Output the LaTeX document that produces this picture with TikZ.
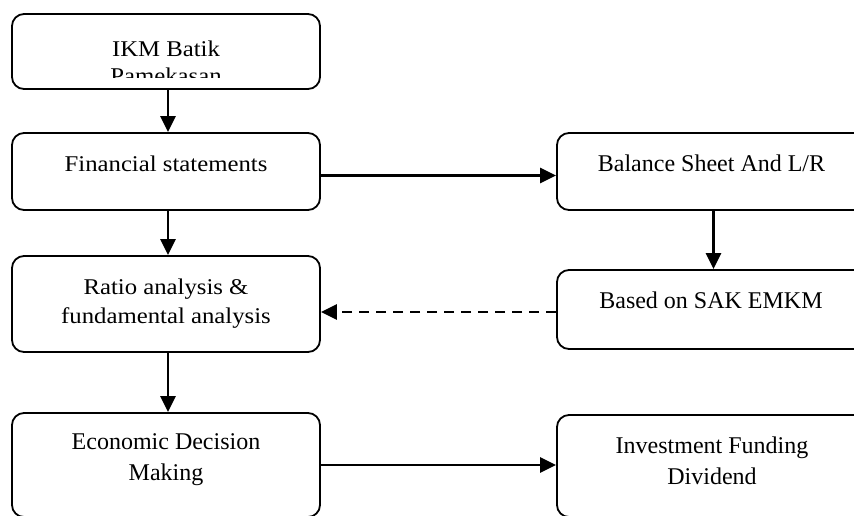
\documentclass[tikz,border=0pt]{standalone}
\usepackage{fontspec}
\setmainfont{Liberation Serif}
\newfontfamily\wideserif[FakeStretch=1.1]{Liberation Serif}
\usetikzlibrary{arrows.meta}

\begin{document}
\begin{tikzpicture}[x=1pt, y=-1pt,
    box/.style={draw, line width=1.8pt, rounded corners=12pt, minimum width=308pt},
    rbox/.style={box, minimum width=313pt},
    flow/.style={line width=2.6pt, -{Triangle[length=16pt, width=15pt]}},
    txt/.style={align=center, inner sep=0pt, font=\fontsize{24}{31}\selectfont}]
    % Define column parameters
    \pgfmathsetmacro{\lx}{166}     % left column centre
    \pgfmathsetmacro{\rx}{713.5}   % right column centre

    % Page frame
    \clip (0,0) rectangle (854,515);

    % Draw boxes of the left column
    \node[box, minimum height=75pt] (ikm) at (\lx,51.5) {};
    \node[box, minimum height=77pt] (fin) at (\lx,171.5) {};
    \node[box, minimum height=96pt] (ratio) at (\lx,304) {};
    \node[box, minimum height=104pt] (econ) at (\lx,465) {};

    % Draw boxes of the right column
    \node[rbox, minimum height=77pt] (bal) at (\rx,171.5) {};
    \node[rbox, minimum height=79pt] (sak) at (\rx,309.5) {};
    \node[rbox, minimum height=102pt] (inv) at (\rx,466) {};

    % Box texts
    \begin{scope}
        \clip (12,14) rectangle (320,77);
        \node[txt, font=\wideserif\fontsize{22.5}{27}\selectfont] (ikm-txt) at (\lx,62) {IKM Batik\\Pamekasan};
    \end{scope}
    \node[txt, font=\wideserif\fontsize{22.5}{29}\selectfont] (fin-txt) at (\lx,164) {Financial statements};
    \node[txt, font=\wideserif\fontsize{22.5}{29}\selectfont] (ratio-txt) at (\lx,303.5) {Ratio analysis \&\\fundamental analysis};
    \node[txt] (econ-txt) at (\lx,460) {Economic Decision\\Making};
    \node[txt] (bal-txt) at (711.5,163) {Balance Sheet And L/R};
    \node[txt] (sak-txt) at (711,300) {Based on SAK EMKM};
    \node[txt] (inv-txt) at (712,461) {Investment Funding\\Dividend};

    % Draw vertical arrows
    \draw[flow] ([xshift=2pt]ikm.south) -- ([xshift=2pt]fin.north);
    \draw[flow] ([xshift=2pt]fin.south) -- ([xshift=2pt]ratio.north);
    \draw[flow] ([xshift=2pt]ratio.south) -- ([xshift=2pt]econ.north);
    \draw[flow] (bal.south) -- (sak.north);

    % Draw horizontal arrows
    \draw[flow] ([yshift=-4pt]fin.east) -- ([yshift=-4pt]fin.east -| bal.west);
    \draw[flow, dash pattern=on 10pt off 7pt] ([yshift=-2.5pt]sak.west) -- ([yshift=-2.5pt]sak.west -| ratio.east);
    \draw[flow] (econ.east) -- (econ.east -| inv.west);
\end{tikzpicture}
\end{document}
